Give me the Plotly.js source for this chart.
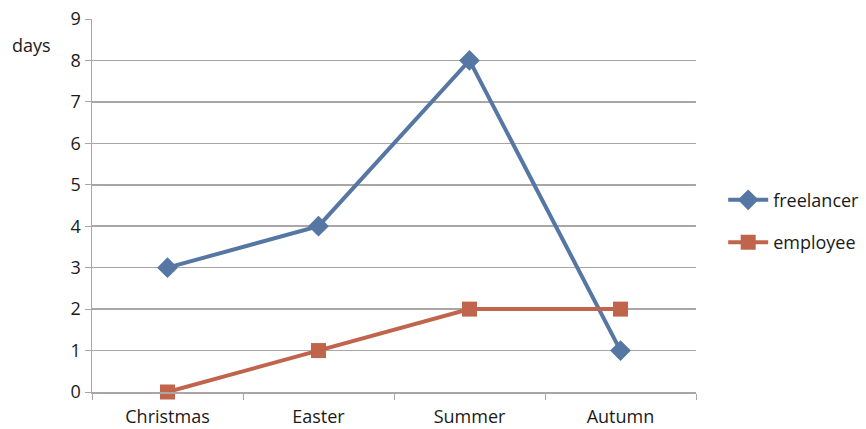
<!DOCTYPE html>
<html>
<head>
<meta charset="utf-8">
<script src="https://cdn.plot.ly/plotly-3.0.1.min.js"></script>
<style>
  html, body { margin: 0; padding: 0; background: #ffffff; }
  #chart { width: 866px; height: 429px; }
</style>
</head>
<body>
<div id="chart"></div>
<script>
// Holiday days taken per season
const seasons = ["Christmas", "Easter", "Summer", "Autumn"];
const freelancer = [3, 4, 8, 1];
const employee = [0, 1, 2, 2];
const yTicks = [0, 1, 2, 3, 4, 5, 6, 7, 8, 9];

const font = { family: "Open Sans, Liberation Sans, sans-serif", size: 18, color: "#1a1a1a" };
const gridColor = "#aaa6a6";

const traces = [
  {
    x: seasons, y: freelancer, name: "freelancer", legendgroup: "a",
    type: "scatter", mode: "lines+markers", cliponaxis: false,
    line: { color: "#5677a4", width: 4 },
    marker: { symbol: "diamond", size: 16, color: "#5677a4" }
  },
  {
    x: seasons, y: employee, name: "employee", legendgroup: "b",
    type: "scatter", mode: "lines+markers", cliponaxis: false,
    line: { color: "#c0644c", width: 4 },
    marker: { symbol: "square", size: 15, color: "#c0644c" }
  }
];

const layout = {
  width: 866, height: 429,
  paper_bgcolor: "#ffffff", plot_bgcolor: "#ffffff",
  font: font,
  showlegend: true,
  margin: { l: 92, r: 170, t: 19, b: 37, autoexpand: false },
  xaxis: {
    type: "category",
    range: [-0.5, 3.5],
    showgrid: false,
    showline: true, linecolor: gridColor, linewidth: 1.5,
    ticks: "outside", tickson: "boundaries", ticklen: 6, tickcolor: gridColor,
    ticklabelstandoff: 8,
    tickfont: font
  },
  yaxis: {
    range: [0, 9],
    tickvals: yTicks,
    showgrid: true, gridcolor: gridColor, gridwidth: 1.5,
    showline: true, linecolor: gridColor, linewidth: 1.5,
    zeroline: false,
    ticks: "outside", ticklen: 6, tickcolor: gridColor,
    tickfont: font
  },
  legend: {
    x: 1.045, y: 0.458, xanchor: "left", yanchor: "middle",
    font: font, itemwidth: 40, tracegroupgap: 16,
    bgcolor: "rgba(0,0,0,0)"
  },
  annotations: [
    {
      text: "days", xref: "paper", yref: "paper",
      x: -0.135, y: 0.93, xanchor: "left", yanchor: "middle",
      showarrow: false, font: font
    }
  ]
};

Plotly.newPlot("chart", traces, layout, { displayModeBar: false, staticPlot: true });
</script>
</body>
</html>
